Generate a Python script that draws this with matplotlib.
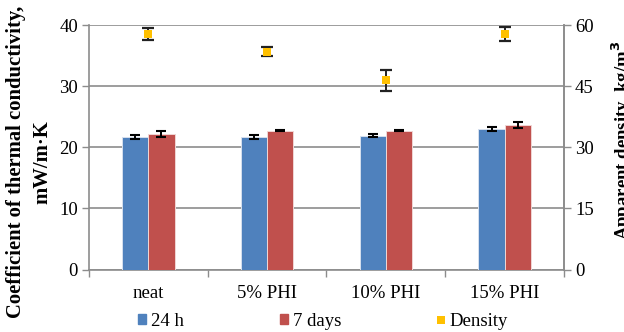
#!/usr/bin/env python3
"""
Thermal conductivity and apparent density of foams with PHI
"""

import matplotlib
matplotlib.use('Agg')
import matplotlib.pyplot as plt
import numpy as np
from matplotlib.lines import Line2D
from matplotlib.ticker import FixedLocator

categories = ['neat', '5% PHI', '10% PHI', '15% PHI']

lambda_24h = [21.7, 21.7, 21.9, 23.0]
lambda_24h_err = [0.3, 0.35, 0.3, 0.3]
lambda_7d = [22.1, 22.7, 22.7, 23.6]
lambda_7d_err = [0.5, 0.1, 0.1, 0.5]

density = [57.8, 53.4, 46.4, 57.7]
density_err = [1.4, 1.1, 2.5, 1.7]

BLUE = '#4f81bd'
RED = '#c0504d'
GOLD = '#ffc000'
GRID = '#8c8c8c'

plt.rcParams['font.family'] = ['Liberation Serif', 'DejaVu Serif']
FS = 13.5

fig = plt.figure(figsize=(6.24, 3.32), dpi=100)
ax = fig.add_axes([89 / 624, 1 - 269.5 / 332, 475 / 624, 244.5 / 332])

x = np.arange(len(categories))
w = 0.22
err_kw = dict(ecolor='black', elinewidth=1.4, capsize=3.3, capthick=1.5)
b1 = ax.bar(x - w / 2, lambda_24h, w, yerr=lambda_24h_err, color=BLUE,
            edgecolor='#d6e0ee', linewidth=0.7, error_kw=err_kw, zorder=3)
b2 = ax.bar(x + w / 2, lambda_7d, w, yerr=lambda_7d_err, color=RED,
            edgecolor='#f0d6d5', linewidth=0.7, error_kw=err_kw, zorder=3)

ax.set_xlim(-0.5, len(categories) - 0.5)
ax.set_ylim(0, 40)
ax.set_yticks([0, 10, 20, 30, 40])
ax.set_xticks(x)
ax.set_xticklabels(categories, fontsize=FS)
ax.xaxis.set_minor_locator(FixedLocator(np.arange(-0.5, len(categories), 1)))
ax.tick_params(axis='x', which='major', length=0, pad=11)
ax.tick_params(axis='x', which='minor', length=5, color=GRID, width=1)
ax.tick_params(axis='y', length=5, color=GRID, width=1, labelsize=FS, pad=3)
ax.grid(axis='y', color=GRID, linewidth=1.2, zorder=0)
ax.set_axisbelow(True)
ax.spines['top'].set_visible(False)
for side in ['left', 'right', 'bottom']:
    ax.spines[side].set_color(GRID)
    ax.spines[side].set_linewidth(1.2)

# density on its own scale, right-hand axis
ax2 = ax.twinx()
ax2.set_ylim(0, 60)
ax2.set_yticks([0, 15, 30, 45, 60])
ax2.tick_params(axis='y', length=5, color=GRID, width=1, labelsize=FS, pad=3)
for side in ['top', 'left', 'bottom']:
    ax2.spines[side].set_visible(False)
ax2.spines['right'].set_color(GRID)
ax2.spines['right'].set_linewidth(1.2)
ax2.errorbar(x, density, yerr=density_err, fmt='none', ecolor='#222222',
             elinewidth=1.4, capsize=4, capthick=1.6, zorder=4)
ax2.plot(x, density, 's', color=GOLD, markersize=6, markeredgewidth=0,
         zorder=5)

fig.text(29 / 624, 1 - 162 / 332,
         'Coefficient of thermal conductivity,\nmW/m\u00b7K',
         rotation=90, ha='center', va='center', multialignment='center',
         fontsize=14.9, fontweight='bold', linespacing=1.4)
fig.text(622 / 624, 1 - 140 / 332, 'Apparent density, kg/m$^\\mathbf{3}$',
         rotation=90, ha='center', va='center',
         fontsize=FS, fontweight='bold')

handles = [plt.Rectangle((0, 0), 1, 1, color=BLUE),
           plt.Rectangle((0, 0), 1, 1, color=RED),
           Line2D([], [], linestyle='none', marker='s', color=GOLD,
                  markersize=5.5, markeredgewidth=0)]
fig.legend(handles, ['24 h', '7 days', 'Density'], loc='center',
           bbox_to_anchor=(323 / 624, 1 - 321 / 332), ncol=3, frameon=False,
           fontsize=FS, handlelength=0.45, handleheight=0.45,
           handletextpad=0.25, columnspacing=5.1, borderpad=0)

fig.savefig('out.png', dpi=100)
